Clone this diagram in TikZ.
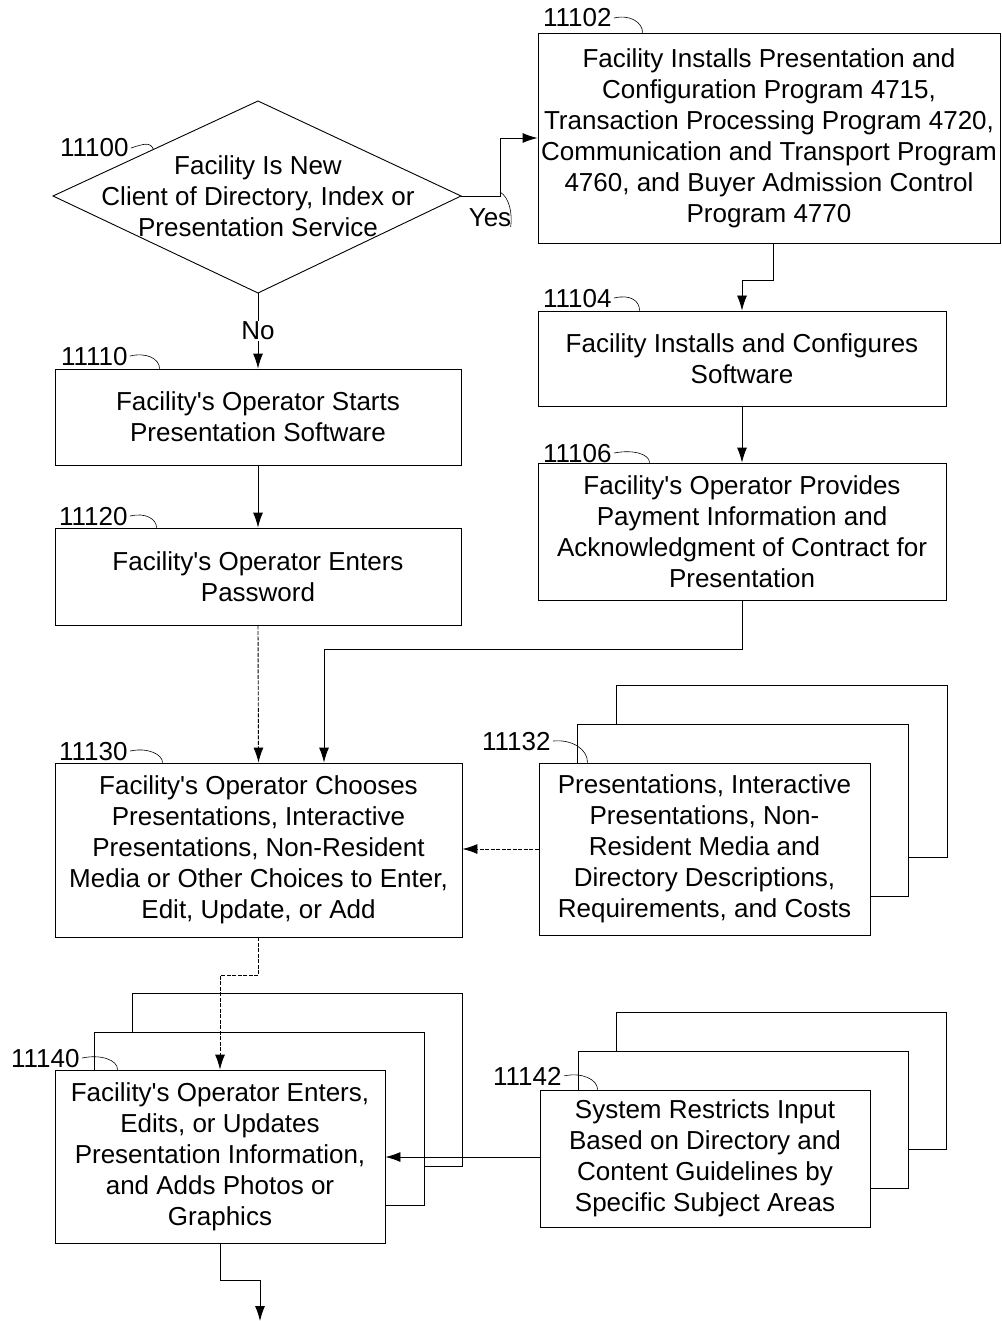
\documentclass[tikz,border=0pt]{standalone}
\usepackage{fontspec}
\setmainfont{Liberation Sans}
\usetikzlibrary{arrows.meta,calc}

\begin{document}
\begin{tikzpicture}[x=1pt,y=-1pt,
    font=\fontsize{26}{31}\selectfont,
    line width=0.9pt,
    box/.style={draw,fill=white,inner sep=0pt,align=center},
    arr/.style={-{Latex[length=15pt,width=10pt]}},
    dotline/.style={dash pattern=on 4pt off 1.5pt},
    reflbl/.style={anchor=base east,inner sep=0pt},
    tick/.style={line width=0.6pt}]
        \useasboundingbox (0,0) rectangle (1001,1321);

        % Decision
        \coordinate (d-t) at (258,101);
        \coordinate (d-r) at (461,196);
        \coordinate (d-b) at (258,293);
        \coordinate (d-l) at (53,196);
        \draw (d-t) -- (d-r) -- (d-b) -- (d-l) -- cycle;
        \node[align=center] (n11100) at (258,196) {Facility Is New\\Client of Directory, Index or\\Presentation Service};

        % Right column
        \node[box,minimum width=462pt,minimum height=210pt] (n11102) at (769,138)
            {Facility Installs Presentation and\\Configuration Program 4715,\\Transaction Processing Program 4720,\\Communication and Transport Program\\4760, and Buyer Admission Control\\Program 4770};
        \node[box,minimum width=408pt,minimum height=95pt] (n11104) at (742,358.5)
            {Facility Installs and Configures\\Software};
        \node[box,minimum width=408pt,minimum height=137pt] (n11106) at (742,531.5)
            {Facility\textquotesingle s Operator Provides\\Payment Information and\\Acknowledgment of Contract for\\Presentation};

        % Left column
        \node[box,minimum width=406pt,minimum height=96pt] (n11110) at (258,417)
            {Facility\textquotesingle s Operator Starts\\Presentation Software};
        \node[box,minimum width=406pt,minimum height=97pt] (n11120) at (258,576.5)
            {Facility\textquotesingle s Operator Enters\\Password};
        \node[box,minimum width=407pt,minimum height=174pt] (n11130) at (258.5,850)
            {Facility\textquotesingle s Operator Chooses\\Presentations, Interactive\\Presentations, Non-Resident\\Media or Other Choices to Enter,\\Edit, Update, or Add};

        % Stack 11132
        \node[box,minimum width=331pt,minimum height=172pt] (n11132c) at (781.5,771) {};
        \node[box,minimum width=331pt,minimum height=172pt] (n11132b) at (742.5,810) {};
        \node[box,minimum width=331pt,minimum height=172pt] (n11132) at (704.5,849)
            {Presentations, Interactive\\Presentations, Non-\\Resident Media and\\Directory Descriptions,\\Requirements, and Costs};

        % Stack 11140
        \node[box,minimum width=330pt,minimum height=173pt] (n11140c) at (297.5,1080) {};
        \node[box,minimum width=330pt,minimum height=173pt] (n11140b) at (259.5,1118.5) {};
        \node[box,minimum width=330pt,minimum height=173pt] (n11140) at (220,1156.5)
            {Facility\textquotesingle s Operator Enters,\\Edits, or Updates\\Presentation Information,\\and Adds Photos or\\Graphics};

        % Stack 11142
        \node[box,minimum width=330pt,minimum height=137pt] (n11142c) at (781.5,1081) {};
        \node[box,minimum width=330pt,minimum height=137pt] (n11142b) at (743,1119.5) {};
        \node[box,minimum width=330pt,minimum height=137pt] (n11142) at (705,1158.5)
            {System Restricts Input\\Based on Directory and\\Content Guidelines by\\Specific Subject Areas};

        % Connectors
        \draw[arr] (d-r) -- ++(39,0) |- (n11102.west);
        \draw[arr] ([xshift=4pt]n11102.south) -- ++(0,37) -| (n11104.north);
        \draw[arr] (n11104.south) -- (n11106.north);
        \draw[arr] (d-b) -- node[fill=white,inner sep=1pt] (no) {No} (n11110.north);
        \draw[arr] (n11110.south) -- (n11120.north);
        \draw[arr,dotline] (n11120.south) -- (n11130.north);
        \draw[arr] (n11106.south) -- ++(0,49) -| ([xshift=65.5pt]n11130.north);
        \draw[arr,dotline] (n11132.west) -- (n11132.west -| n11130.east);
        \draw[arr,dotline] (n11130.south) -- ++(0,38) -| (n11140.north);
        \draw[arr] ([yshift=1.5pt]n11142.west) -- ([yshift=1.5pt]n11142.west -| n11140.east);
        \coordinate (cont) at (260,1321);
        \draw[arr] (n11140.south) -- ++(0,37) -| (cont);

        % Yes label
        \node[anchor=base,inner sep=0pt] (yes) at (490,227) {Yes};
        \draw[tick] ($(d-r)+(39,-4)$) .. controls +(9,5) and +(2,-14) .. ($(yes.base east)+(-1,0)$);

        % Reference numbers
        \node[reflbl] (l11100) at (129,157) {11100};
        \draw[tick] ([xshift=2pt]l11100.east) .. controls +(12,-4) and +(-3,-8) .. ($(d-l)!0.49!(d-t)$);
        \node[reflbl] (l11102) at (612,27) {11102};
        \draw[tick] ([xshift=2pt]l11102.east) .. controls +(16,-4) and +(0,-10) .. ($(n11102.north west)+(105,0)$);
        \node[reflbl] (l11104) at (612,307) {11104};
        \draw[tick] ([xshift=2pt]l11104.east) .. controls +(16,-4) and +(0,-10) .. ($(n11104.north west)+(102,0)$);
        \node[reflbl] (l11106) at (612,462) {11106};
        \draw[tick] ([xshift=2pt]l11106.east) .. controls +(20,-4) and +(0,-8) .. ($(n11106.north west)+(112,0)$);
        \node[reflbl] (l11110) at (128,365) {11110};
        \draw[tick] ([xshift=2pt]l11110.east) .. controls +(16,-4) and +(0,-10) .. ($(n11110.north west)+(105,0)$);
        \node[reflbl] (l11120) at (128,525) {11120};
        \draw[tick] ([xshift=2pt]l11120.east) .. controls +(16,-4) and +(0,-8) .. ($(n11120.north west)+(102,0)$);
        \node[reflbl] (l11130) at (128,760) {11130};
        \draw[tick] ([xshift=2pt]l11130.east) .. controls +(18,-4) and +(0,-8) .. ($(n11130.north west)+(108,0)$);
        \node[reflbl] (l11132) at (551,750) {11132};
        \draw[tick] ([xshift=2pt]l11132.east) .. controls +(18,-2) and +(0,-14) .. ($(n11132.north west)+(49,0)$);
        \node[reflbl] (l11140) at (80,1067) {11140};
        \draw[tick] ([xshift=2pt]l11140.east) .. controls +(18,-4) and +(0,-10) .. ($(n11140.north west)+(63,0)$);
        \node[reflbl] (l11142) at (562,1085) {11142};
        \draw[tick] ([xshift=2pt]l11142.east) .. controls +(18,-4) and +(0,-10) .. ($(n11142.north west)+(58,0)$);
    \end{tikzpicture}
\end{document}
